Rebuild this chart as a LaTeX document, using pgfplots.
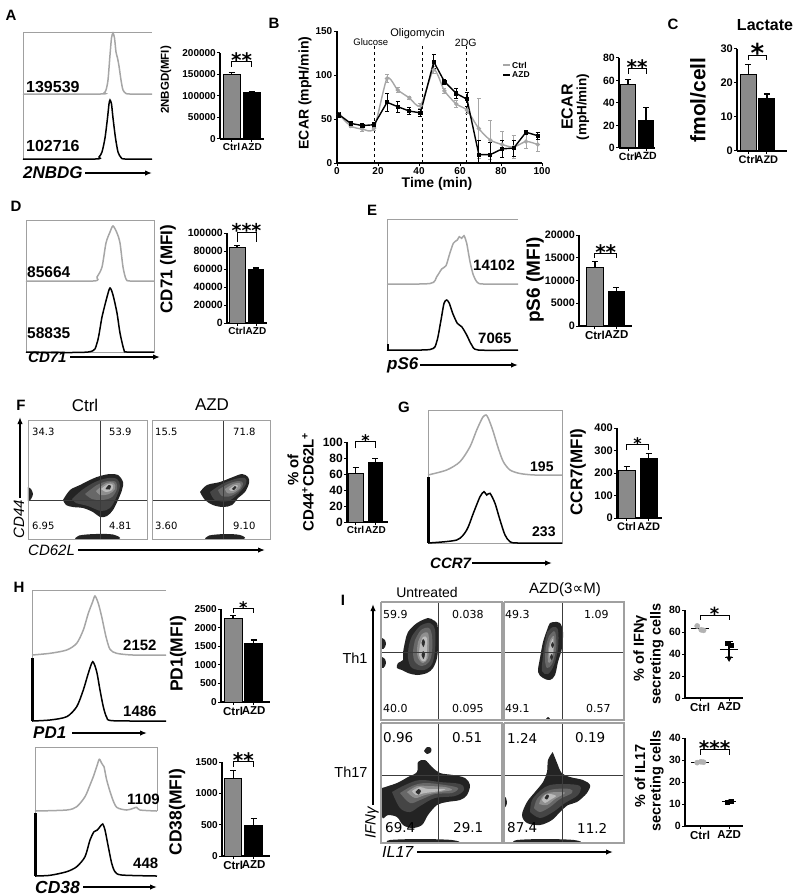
\documentclass[border=0pt]{standalone}
\usepackage{fontspec}
\setmainfont{Liberation Sans}
\newfontfamily\dv{DejaVu Sans}
\usepackage{pgfplots}
\pgfplotsset{compat=1.18}
\usetikzlibrary{arrows.meta}
\newcommand\fs[1]{\fontsize{#1}{#1}\selectfont}
\newcommand\B[1]{\bfseries\fs{#1}}
\newcommand\BI[1]{\bfseries\itshape\fs{#1}}
\newcommand\IT[1]{\itshape\fs{#1}}
\definecolor{hgray}{HTML}{A6A6A6}
\definecolor{fgray}{HTML}{A0A0A0}
\definecolor{bgray}{HTML}{8A8A8A}
\definecolor{qline}{HTML}{3C3C3C}
\definecolor{ca}{HTML}{232323}
\definecolor{cb}{HTML}{454545}
\definecolor{cc}{HTML}{686868}
\definecolor{cd}{HTML}{8F8F8F}
\definecolor{ce}{HTML}{BCBCBC}
\definecolor{cf}{HTML}{2E2E2E}
\pgfplotsset{
  barax/.style={scale only axis, anchor=south west, axis lines*=left, ymin=0, clip=false,
    axis line style={line width=1.2pt}, tick style={line width=1pt, black},
    tick align=outside, major tick length=3pt, xtick={0,1}, xticklabels={Ctrl,AZD},
    scaled y ticks=false, /pgf/number format/fixed, /pgf/number format/1000 sep={}, /pgf/number format/assume math mode=true,
    yticklabel style={inner sep=1pt}, xticklabel style={inner sep=1.5pt}},
  ctrlbar/.style={ybar, bar shift=0pt, fill=bgray, draw=black, line width=1pt,
    /pgfplots/error bars/y dir=plus, /pgfplots/error bars/y explicit,
    /pgfplots/error bars/error bar style={line width=1.3pt, black},
    /pgfplots/error bars/error mark options={rotate=90, line width=1.3pt, mark size=3pt, black}},
  azdbar/.style={ybar, bar shift=0pt, fill=black, draw=black, line width=1pt,
    /pgfplots/error bars/y dir=plus, /pgfplots/error bars/y explicit,
    /pgfplots/error bars/error bar style={line width=1.3pt, black},
    /pgfplots/error bars/error mark options={rotate=90, line width=1.3pt, mark size=3pt, black}},
}
\newcommand\sig[4]{%
  \draw[line width=1pt] (axis cs:0,#2) -- (axis cs:0,#1) -- (axis cs:1,#1) -- (axis cs:1,#2);
  \node[anchor=base, inner sep=0pt, font=\dv\bfseries\fs{#3}, yshift=-0.3*#3pt] at (axis cs:0.5,#1) {#4};}
\newcommand\tx[4][]{\node[inner sep=0pt,#1] at (axis cs:#2,#3) {#4};}
\newcommand\arr[4]{\draw[line width=1.4pt, -{Latex[length=7pt,width=5.5pt]}] (axis cs:#1,#2) -- (axis cs:#3,#4);}
\newcommand\blob[2]{\addplot[draw=none, fill=#1, smooth, tension=0.55] coordinates {#2};}
\newcommand\seg[2]{\addplot[#1] coordinates {#2};}
\begin{document}
\begin{tikzpicture}[x=1pt,y=1pt]
\useasboundingbox (0,0) rectangle (800,-896);
\begin{axis}[at={(0pt,0pt)}, anchor=north west, scale only axis, width=800pt, height=896pt,
  xmin=0, xmax=800, ymin=0, ymax=896, y dir=reverse, hide axis, clip=false]
% ---------- panel letters
\tx[font=\B{15}]{11}{15}{A}
\tx[font=\B{15}]{274}{23}{B}
\tx[font=\B{15}]{673}{24}{C}
\tx[font=\B{15}]{16}{206}{D}
\tx[font=\B{15}]{372}{210}{E}
\tx[font=\B{15}]{21}{405}{F}
\tx[font=\B{15}]{404}{407}{G}
\tx[font=\B{15}]{19}{587}{H}
\tx[font=\B{15}]{343}{600}{I}
% ---------- A histogram
\seg{fgray, line width=1pt}{(23,159) (23,32) (152,32)}
\seg{hgray, line width=1.5pt, smooth, tension=0.45}{(23,94) (100,94) (104,93) (106,90) (108,80) (110,55) (111.5,38) (113,33) (114.5,38) (116,52) (117.5,58) (119,66) (121,80) (123,90) (126,93.5) (130,94) (152,94)}
\seg{black, line width=1.5pt, smooth, tension=0.45}{(23,159) (95,159) (99,157) (102,152) (105,138) (107.5,118) (109,104) (110,100) (111.5,104) (113,118) (115.5,138) (118,152) (121,157.5) (125,159) (152,159)}
\tx[anchor=west, font=\B{16}]{26}{87}{139539}
\tx[anchor=west, font=\B{16}]{26}{146}{102716}
\tx[anchor=west, font=\BI{17}]{23}{173}{2NBDG}
\arr{85}{173}{152}{173}
\tx[rotate=90, font=\B{11.5}]{166}{80}{2NBGD(MFI)}
% ---------- D histogram
\seg{fgray, line width=1pt}{(26,220) (154,220) (154,352) (26,352) (26,220)}
\seg{hgray, line width=1.5pt, smooth, tension=0.45}{(26,281) (93,281) (97,277) (102,267) (106,243) (110,232) (113,226) (117,233) (120,243) (123,267) (126,279) (130,281) (154,281)}
\seg{black, line width=1.5pt, smooth, tension=0.45}{(26,352) (88,352) (97,343) (102,317) (107,297) (110,288) (113,295) (117,313) (120,333) (124,350) (127,352) (154,352)}
\tx[anchor=west, font=\B{15.5}]{27}{272}{85664}
\tx[anchor=west, font=\B{15.5}]{27}{333}{58835}
\tx[anchor=west, font=\BI{15}]{28}{357}{CD71}
\arr{70}{357}{160}{357}
\tx[rotate=90, font=\B{17}]{168}{269}{CD71 (MFI)}
% ---------- E histogram
\seg{fgray, line width=1pt}{(518,219) (387,219) (387,350)}
\seg{hgray, line width=1.5pt, smooth, tension=0.45}{(387,284) (430,283.5) (436.7,276.7) (441.7,269) (446,265.7) (449.3,255) (453.3,243.3) (457.3,240) (459.3,236.7) (461.7,238.3) (464,235.7) (466.7,243.3) (470,261.7) (473.3,275) (477.3,282.3) (483.3,284) (518,284)}
\seg{black, line width=1.5pt, smooth, tension=0.45}{(387,350) (430,349.5) (436.7,341.7) (440.7,321.7) (444,303.3) (446.7,300) (449.3,303.3) (452.7,313.3) (457.3,323.3) (461.7,326.7) (466.7,335) (471.7,345) (478.3,350) (518,350)}
\seg{black, line width=2pt}{(387.5,344) (387.5,350)}
\tx[anchor=west, font=\B{15}]{473}{265}{14102}
\tx[anchor=west, font=\B{15}]{478}{338}{7065}
\tx[anchor=west, font=\BI{17}]{387}{365}{pS6}
\arr{420}{365}{518}{365}
\tx[rotate=90, font=\B{19}]{535}{280}{pS6 (MFI)}
% ---------- G histogram
\seg{fgray, line width=1pt}{(428,410) (562,410) (562,543) (428,543) (428,410)}
\seg{hgray, line width=1.5pt, smooth, tension=0.45}{(428,475) (446.7,470) (460,461.7) (470,446.7) (476.7,430) (482.7,417.3) (486,415) (488.3,418.3) (492.7,430) (498.3,448.3) (503.3,461.7) (510,470) (520,473.5) (535,475) (562,475)}
\seg{black, line width=1.5pt, smooth, tension=0.45}{(428,543) (456.7,540) (466.7,530) (473.3,513.3) (480,496.7) (484,491.7) (486.7,495) (490,493.3) (495,503.3) (500,520) (505,535) (510,541.7) (518,543) (562,543)}
\seg{black, line width=2.5pt}{(428.5,477) (428.5,543)}
\tx[anchor=west, font=\B{14}]{530}{467}{195}
\tx[anchor=west, font=\B{14}]{532}{532}{233}
\tx[anchor=west, font=\BI{15}]{430}{563}{CCR7}
\arr{472}{563}{552}{563}
\tx[rotate=90, font=\B{17}]{578}{472}{CCR7(MFI)}
% ---------- H histograms
\seg{fgray, line width=1pt}{(166,590) (32,590) (32,721)}
\seg{hgray, line width=1.5pt, smooth, tension=0.45}{(32,655) (50,653.3) (66.7,650) (76.7,643.3) (83.3,630) (88.3,613.3) (92.7,601.7) (95,596) (98.3,603.3) (101.7,616.7) (106,636.7) (110,649.3) (116.7,653.3) (133,655) (166,655)}
\seg{black, line width=1.5pt, smooth, tension=0.45}{(32,721) (50,720) (66.7,716.7) (76.7,706.7) (83.3,690) (88.3,673.3) (92.7,661.7) (96.7,671.7) (100,690) (103.3,706.7) (106.7,717.3) (113,720.7) (166,721)}
\seg{black, line width=2.5pt}{(32.5,658) (32.5,721)}
\tx[anchor=west, font=\B{15}]{123}{645}{2152}
\tx[anchor=west, font=\B{15}]{123}{711}{1486}
\tx[anchor=west, font=\BI{17}]{33}{733}{PD1}
\arr{72}{733}{147}{733}
\tx[rotate=90, font=\B{17.5}]{178}{654}{PD1(MFI)}
\seg{fgray, line width=1pt}{(157,811) (157,747) (35,747) (35,876)}
\seg{hgray, line width=1.5pt, smooth, tension=0.45}{(35,811) (66.7,810) (76.7,806.7) (85,796.7) (90,785) (93.3,776.7) (96.7,766.7) (99.3,759.3) (101.7,763.3) (104,766.7) (106.7,780) (111.7,796.7) (116.7,807.3) (126.7,810) (133.3,808.3) (136.7,807.3) (140,810) (157,811)}
\seg{black, line width=1.5pt, smooth, tension=0.45}{(35,876) (50,875.3) (66.7,871.7) (76.7,866.7) (85,856.7) (90,840) (94,831.7) (97.3,830) (100,826.7) (102.7,824) (105,830) (108.3,846.7) (111.7,863.3) (115,871.7) (121.7,875) (157,876)}
\seg{black, line width=2.5pt}{(35.5,813) (35.5,876)}
\tx[anchor=west, font=\B{15}]{127}{799}{1109}
\tx[anchor=west, font=\B{15}]{133}{863}{448}
\tx[anchor=west, font=\BI{17.5}]{35}{887}{CD38}
\arr{83}{887}{157}{887}
\tx[rotate=90, font=\B{17.5}]{177}{812}{CD38(MFI)}
% ---------- F contour plots
\blob{ca}{(63,500) (70,490) (80,485) (92,479) (100,476) (110,474) (118,475) (123,482) (122,490) (118,500) (113,510) (107,516) (100,517) (93,512) (83,508) (73,507) (66,505) (63,500)}
\blob{cb}{(72,499) (82,490) (95,482) (108,478) (117,479) (120,486) (116,498) (110,508) (101,511) (88,506) (76,503) (72,499)}
\blob{cc}{(85,494) (97,485) (108,481) (116,482) (117,489) (112,497) (103,500) (92,499) (85,494)}
\blob{cd}{(96,491) (106,483) (114,483) (115,489) (109,494) (100,495) (96,491)}
\blob{ce}{(101,489) (108,484) (113,485) (112,490) (106,492) (101,489)}
\blob{cf}{(105.5,489) (108.5,485) (111,486) (109.5,489.5) (105.5,489)}
\blob{ca}{(28,487) (31,489) (33,494) (31,499) (28,501) (28,487)}
\blob{ca}{(75,539) (79,535.5) (95,534) (113,534.5) (118,539) (75,539)}
\blob{ca}{(200,492) (207,485) (220,482) (233,477) (242,474) (248,477) (249,483) (245,492) (238,498) (232,505) (223,507) (213,505) (205,500) (200,492)}
\blob{cb}{(210,492) (222,484) (235,479) (245,478) (246,484) (238,494) (228,501) (215,500) (210,492)}
\blob{cc}{(218,490) (228,484) (238,481) (243,483) (240,490) (231,496) (222,496) (218,490)}
\blob{cd}{(225,489) (233,484) (240,483) (240,488) (233,493) (227,493) (225,489)}
\blob{ce}{(229,489) (235,485) (238,486) (235,490) (231,491) (229,489)}
\blob{cf}{(232,489) (235,486) (236.5,487) (234,490) (232,489)}
\blob{ca}{(205,539) (209,535.5) (225,534) (240,535) (243,539) (205,539)}
\seg{qline, line width=1pt}{(100,420) (100,539)}
\seg{qline, line width=1pt}{(28,500.5) (147,500.5)}
\seg{qline, line width=1pt}{(223,420) (223,539)}
\seg{qline, line width=1pt}{(152,500.5) (270,500.5)}
\seg{fgray, line width=1pt}{(28,420) (147,420) (147,539) (28,539) (28,420)}
\seg{fgray, line width=1pt}{(152,420) (270,420) (270,539) (152,539) (152,420)}
\tx[anchor=west, font=\dv\fs{10}]{32}{432}{34.3}
\tx[anchor=west, font=\dv\fs{10}]{109}{432}{53.9}
\tx[anchor=west, font=\dv\fs{10}]{32}{526}{6.95}
\tx[anchor=west, font=\dv\fs{10}]{109}{526}{4.81}
\tx[anchor=west, font=\dv\fs{10}]{155}{432}{15.5}
\tx[anchor=west, font=\dv\fs{10}]{233}{432}{71.8}
\tx[anchor=west, font=\dv\fs{10}]{155}{526}{3.60}
\tx[anchor=west, font=\dv\fs{10}]{233}{526}{9.10}
\tx[font=\fs{17}]{85}{405}{Ctrl}
\tx[font=\fs{17}]{212}{405}{AZD}
\arr{20}{498}{20}{417}
\tx[rotate=90, font=\IT{15}]{19}{519}{CD44}
\tx[anchor=west, font=\IT{15}]{28}{550}{CD62L}
\arr{78}{550}{265}{550}
\tx[rotate=90, font=\B{15}]{293}{470}{\% of}
\tx[rotate=90, font=\B{15}]{308}{482}{CD44\textsuperscript{+}CD62L\textsuperscript{+}}
% ---------- I contour plots
\blob{ca}{(433,620) (428,618) (417,623) (408,632) (405,642) (403,653) (403,660) (398,663) (397,668) (402,670) (408,673) (417,675) (427,673) (433,668) (437,658) (438,645) (438,632) (437,623) (433,620)}
\blob{cb}{(412,636) (420,626) (430,623) (435,630) (435,650) (432,664) (424,670) (412,668) (408,658) (409,645) (412,636)}
\blob{cc}{(415,640) (421,630) (429,628) (432,636) (432,652) (429,662) (422,666) (415,662) (413,652) (415,640)}
\blob{cd}{(418,642) (422,634) (428,633) (429,645) (428,658) (423,663) (418,658) (417,650) (418,642)}
\blob{ce}{(420,645) (423,637) (427,638) (427,650) (426,660) (422,661) (419,655) (420,645)}
\blob{cf}{(421.5,643) (423,639) (425,642) (423.5,647) (421.5,643)}
\blob{cf}{(421.5,655) (423,651) (425,654) (423.5,659) (421.5,655)}
\blob{ca}{(382,638) (385,640) (386,643) (385,647) (382,649) (382,638)}
\blob{ca}{(382,657) (385,659) (386,662) (385,666) (382,668) (382,657)}
\blob{ca}{(555,622) (560,623) (563,632) (562,648) (558,662) (555,675) (550,680) (543,678) (538,672) (540,658) (543,642) (547,630) (550,623) (555,622)}
\blob{cb}{(547,632) (553,627) (558,630) (558,648) (554,665) (548,674) (542,671) (543,656) (545,642) (547,632)}
\blob{cc}{(549,636) (554,631) (556,636) (556,650) (552,664) (547,668) (545,660) (546,646) (549,636)}
\blob{cd}{(550,640) (554,636) (554,650) (551,661) (548,662) (548,650) (550,640)}
\blob{ce}{(551,642) (553,639) (553,652) (550,658) (549,650) (551,642)}
\blob{cf}{(551,645) (552.5,642) (554,645) (552.5,648) (551,645)}
\blob{cf}{(550,657) (551.5,654) (553,657) (551.5,660) (550,657)}
\blob{ca}{(546,719) (548,717) (550,719) (548,721) (546,719)}
\blob{ca}{(382,788) (397,783) (408,777) (417,772) (418,762) (425,760) (432,767) (440,773) (453,775) (465,778) (470,785) (467,795) (460,800) (447,802) (437,805) (428,815) (422,825) (412,828) (403,825) (397,817) (388,815) (382,817) (382,788)}
\blob{ca}{(424,751) (427,747) (431,748) (431,752) (427,754) (424,751)}
\blob{cb}{(392,792) (405,785) (420,780) (440,782) (460,784) (464,790) (455,796) (435,798) (420,806) (410,812) (400,808) (392,792)}
\blob{cc}{(400,793) (412,786) (425,783) (445,785) (458,788) (452,793) (435,794) (420,800) (410,803) (400,793)}
\blob{cd}{(407,792) (417,786) (428,786) (445,787) (452,790) (440,792) (425,795) (415,798) (407,792)}
\blob{ce}{(412,791) (420,787) (428,789) (445,789) (440,791) (425,793) (416,795) (412,791)}
\blob{cf}{(415.5,792) (418.5,789) (421,791) (418.5,794.5) (415.5,792)}
\blob{ca}{(387,843) (390,840) (420,839) (452,840) (455,843) (387,843)}
\blob{ca}{(552.7,752) (556.7,762) (561.7,773) (570,777) (583,780) (590,785) (587,793) (577,802) (568,805) (560,812) (552,820) (540,825) (527,823) (522,815) (527,802) (535,792) (543,782) (547,772) (548,760) (552.7,752)}
\blob{cb}{(530,812) (532,800) (541,790) (550,785) (565,784) (580,786) (578,795) (565,803) (553,812) (540,818) (530,812)}
\blob{cc}{(534,808) (537,799) (545,792) (555,789) (570,789) (572,793) (560,799) (550,807) (540,812) (534,808)}
\blob{cd}{(539,804) (542,797) (548,793) (558,792) (565,793) (555,799) (547,805) (539,804)}
\blob{ce}{(542,800) (545,795) (550,794) (556,796) (550,800) (545,803) (542,800)}
\blob{cf}{(544.5,798) (547,794.5) (549,796) (547,799.5) (544.5,798)}
\blob{ca}{(503,795) (506,798) (507,802) (506,806) (503,808) (503,795)}
\blob{ca}{(513,843) (517,840) (545,839) (574,840) (577,843) (513,843)}
\seg{qline, line width=1pt}{(438,602) (438,720)}
\seg{qline, line width=1pt}{(381,652) (502,652)}
\seg{qline, line width=1pt}{(562,602) (562,720)}
\seg{qline, line width=1pt}{(503,652) (624,652)}
\seg{qline, line width=1pt}{(438,723) (438,843)}
\seg{qline, line width=1pt}{(381,775) (502,775)}
\seg{qline, line width=1pt}{(562,723) (562,843)}
\seg{qline, line width=1pt}{(503,775) (624,775)}
\seg{fgray, line width=1.2pt}{(381,602) (502,602) (502,720) (381,720) (381,602)}
\seg{fgray, line width=1.2pt}{(504,602) (624,602) (624,720) (504,720) (504,602)}
\seg{fgray, line width=1.2pt}{(381,723) (502,723) (502,843) (381,843) (381,723)}
\seg{fgray, line width=1.2pt}{(504,723) (624,723) (624,843) (504,843) (504,723)}
\tx[anchor=west, font=\dv\fs{11}]{383}{614}{59.9}
\tx[anchor=west, font=\dv\fs{11}]{452}{614}{0.038}
\tx[anchor=west, font=\dv\fs{11}]{383}{708}{40.0}
\tx[anchor=west, font=\dv\fs{11}]{452}{708}{0.095}
\tx[anchor=west, font=\dv\fs{11}]{505}{614}{49.3}
\tx[anchor=west, font=\dv\fs{11}]{584}{614}{1.09}
\tx[anchor=west, font=\dv\fs{11}]{505}{708}{49.1}
\tx[anchor=west, font=\dv\fs{11}]{586}{708}{0.57}
\tx[anchor=west, font=\dv\fs{13.5}]{383}{738}{0.96}
\tx[anchor=west, font=\dv\fs{13.5}]{452}{738}{0.51}
\tx[anchor=west, font=\dv\fs{13.5}]{385}{828}{69.4}
\tx[anchor=west, font=\dv\fs{13.5}]{453}{828}{29.1}
\tx[anchor=west, font=\dv\fs{13.5}]{507}{738}{1.24}
\tx[anchor=west, font=\dv\fs{13.5}]{575}{738}{0.19}
\tx[anchor=west, font=\dv\fs{13.5}]{507}{828}{87.4}
\tx[anchor=west, font=\dv\fs{13.5}]{577}{828}{11.2}
\tx[font=\fs{14}]{427}{592}{Untreated}
\tx[font=\fs{15}]{565}{590}{AZD(3{\dv ∝}M)}
\tx[font=\fs{14.5}]{355}{658}{Th1}
\tx[font=\fs{14.5}]{351}{772}{Th17}
\arr{373}{805}{373}{604}
\tx[rotate=90, font=\IT{15}]{372}{823}{IFNγ}
\tx[anchor=west, font=\IT{16}]{382}{852}{IL17}
\arr{417}{852}{613}{852}
\tx[rotate=90, font=\B{14.5}]{640}{648}{\% of IFNγ}
\tx[rotate=90, font=\B{14.5}]{657}{654}{secreting cells}
\tx[rotate=90, font=\B{14.5}]{640}{776}{\% of IL17}
\tx[rotate=90, font=\B{14.5}]{657}{781}{secreting cells}
% ---------- B / C free labels
\tx[rotate=90, font=\B{14}]{305}{93}{ECAR (mpH/min)}
\tx[font=\B{14}]{437}{184}{Time (min)}
\seg{hgray, line width=1.6pt}{(503,65) (510,65)}
\seg{black, line width=1.6pt}{(503,75) (510,75)}
\tx[anchor=west, font=\B{8.5}]{512}{65}{Ctrl}
\tx[anchor=west, font=\B{8.5}]{512}{75}{AZD}
\tx[rotate=90, font=\B{16}]{567}{107}{ECAR}
\tx[rotate=90, font=\B{13.5}]{583}{107}{(mpH/min)}
\tx[font=\B{16}]{765}{25}{Lactate}
\tx[rotate=90, font=\B{21}]{698}{100}{fmol/cell}
\end{axis}
% ---------- B ECAR line chart
\begin{axis}[at={(337pt,-163pt)}, anchor=south west, scale only axis, width=205pt, height=132pt,
  xmin=0, xmax=100, ymin=0, ymax=150, axis lines*=left, clip=false,
  xtick={0,20,40,60,80,100}, ytick={0,50,100,150},
  tick align=outside, major tick length=3pt, axis line style={line width=1.1pt},
  tick style={line width=0.9pt, black}, /pgf/number format/fixed, /pgf/number format/assume math mode=true,
  ticklabel style={font=\B{10}, inner sep=1.5pt}]
\addplot[black, dashed, line width=1pt] coordinates {(18.5,0) (18.5,133)};
\addplot[black, dashed, line width=1pt] coordinates {(41.5,0) (41.5,133)};
\addplot[black, dashed, line width=1pt] coordinates {(63,0) (63,133)};
\addplot[hgray, line width=1.4pt, mark=*, mark size=1.4pt, smooth, tension=0.4,
  error bars/.cd, y dir=both, y explicit, error bar style={line width=0.9pt}, error mark options={rotate=90, mark size=2pt, line width=0.9pt}]
 coordinates {(1,55) +- (0,3) (6.7,42) +- (0,2) (12.4,38.5) +- (0,3) (18.1,39.5) +- (0,3) (24.4,96) +- (0,5) (29.6,83) +- (0,3) (35.3,74) +- (0,2) (40.7,65) +- (0,3) (47.2,106) +- (0,4) (52.4,82) +- (0,3) (58.2,67) +- (0,4) (63.4,60) +- (0,4) (69.2,39) +- (0,34) (74.8,26) +- (0,22) (80.5,21) +- (0,15) (86.2,18) +- (0,13) (92.2,24.5) +- (0,8) (97.9,21) +- (0,8)};
\addplot[black, line width=1.4pt, mark=square*, mark size=1.4pt,
  error bars/.cd, y dir=both, y explicit, error bar style={line width=0.9pt}, error mark options={rotate=90, mark size=2pt, line width=0.9pt}]
 coordinates {(1,55) +- (0,3) (6.7,45) +- (0,2) (12.4,42.5) +- (0,2) (18.1,43.5) +- (0,3) (24.4,69) +- (0,10) (29.6,64) +- (0,6) (35.3,59) +- (0,4) (40.7,57) +- (0,4) (47.2,115) +- (0,8) (52.4,92.5) +- (0,3) (58.2,79) +- (0,6) (63.4,72.5) +- (0,8) (69.2,9.5) += (0,16) -= (0,9.5) (74.8,9.5) += (0,14) -= (0,9.5) (80.5,16) +- (0,10) (86.2,17) +- (0,9) (92.2,35) +- (0,2) (97.9,31) +- (0,4)};
\node[font=\fs{9.5}, inner sep=0pt] at (axis cs:16.5,137) {Glucose};
\node[font=\fs{11}, inner sep=0pt] at (axis cs:39.3,147) {Oligomycin};
\node[font=\fs{10.5}, inner sep=0pt] at (axis cs:62.8,137) {2DG};
\end{axis}
% ---------- A bar
\begin{axis}[barax, at={(220pt,-139pt)}, width=44pt, height=86pt, xmin=-0.575, xmax=1.625, ymax=200000,
  ytick={0,50000,100000,150000,200000}, yticklabel style={font=\B{10}}, xticklabel style={font=\B{10}}]
\addplot[bar width=0.85, ctrlbar] coordinates {(0,149000) +- (0,5000)};
\addplot[bar width=0.85, azdbar] coordinates {(1,108000) +- (0,3000)};
\sig{181000}{168000}{20}{**}
\end{axis}
% ---------- B ECAR bar
\begin{axis}[barax, at={(619pt,-148pt)}, width=36pt, height=90pt, xmin=-0.5, xmax=1.5, ymax=80,
  ytick={0,20,40,60,80}, yticklabel style={font=\B{10.5}}, xticklabel style={font=\B{10.5}}]
\addplot[bar width=0.8, ctrlbar] coordinates {(0,56.5) +- (0,4.5)};
\addplot[bar width=0.8, azdbar] coordinates {(1,24.5) +- (0,11.5)};
\sig{70.8}{66}{20}{**}
\end{axis}
% ---------- C lactate
\begin{axis}[barax, at={(737pt,-151pt)}, width=50pt, height=102pt, xmin=-0.6, xmax=2.08, ymax=30,
  ytick={0,10,20,30}, yticklabel style={font=\B{11}}, xticklabel style={font=\B{11}}]
\addplot[bar width=0.85, ctrlbar] coordinates {(0,22.5) +- (0,3)};
\addplot[bar width=0.85, azdbar] coordinates {(1,15.3) +- (0,1.5)};
\sig{28.2}{26.8}{26}{*}
\end{axis}
% ---------- D bar
\begin{axis}[barax, at={(227pt,-323pt)}, width=40pt, height=90pt, xmin=-0.53, xmax=1.58, ymax=100000,
  ytick={0,20000,40000,60000,80000,100000}, yticklabel style={font=\B{10.5}}, xticklabel style={font=\B{10}}]
\addplot[bar width=0.84, ctrlbar] coordinates {(0,84000) +- (0,2500)};
\addplot[bar width=0.84, azdbar] coordinates {(1,59500) +- (0,1500)};
\sig{101000}{90000}{19}{***}
\end{axis}
% ---------- E bar
\begin{axis}[barax, at={(579pt,-326pt)}, width=53pt, height=91pt, xmin=-0.74, xmax=1.72, ymax=20000,
  ytick={0,5000,10000,15000,20000}, yticklabel style={font=\B{10.8}}, xticklabel style={font=\B{11.5}}]
\addplot[bar width=0.76, ctrlbar] coordinates {(0,12800) +- (0,1400)};
\addplot[bar width=0.76, azdbar] coordinates {(1,7650) +- (0,850)};
\sig{16000}{15000}{20}{**}
\end{axis}
% ---------- F bar
\begin{axis}[barax, at={(347pt,-522pt)}, width=41pt, height=80pt, xmin=-0.43, xmax=1.63, ymax=100,
  ytick={0,20,40,60,80,100}, yticklabel style={font=\B{12}}, xticklabel style={font=\B{10}}]
\addplot[bar width=0.75, ctrlbar] coordinates {(0,61) +- (0,7)};
\addplot[bar width=0.75, azdbar] coordinates {(1,75) +- (0,4)};
\sig{100.4}{92}{16}{*}
\end{axis}
% ---------- G bar
\begin{axis}[barax, at={(617pt,-518pt)}, width=45pt, height=90pt, xmin=-0.43, xmax=1.6, ymax=400,
  ytick={0,100,200,300,400}, yticklabel style={font=\B{11}}, xticklabel style={font=\B{11}}]
\addplot[bar width=0.77, ctrlbar] coordinates {(0,210) +- (0,20)};
\addplot[bar width=0.77, azdbar] coordinates {(1,265) +- (0,23)};
\sig{327}{302}{16}{*}
\end{axis}
% ---------- H PD1 bar
\begin{axis}[barax, at={(221pt,-702pt)}, width=49pt, height=93pt, xmin=-0.59, xmax=1.8, ymax=2500,
  ytick={0,500,1000,1500,2000,2500}, yticklabel style={font=\B{10}}, xticklabel style={font=\B{11.5}}]
\addplot[bar width=0.88, ctrlbar] coordinates {(0,2250) +- (0,80)};
\addplot[bar width=0.88, azdbar] coordinates {(1,1560) +- (0,110)};
\sig{2518}{2390}{16}{*}
\end{axis}
% ---------- H CD38 bar
\begin{axis}[barax, at={(222pt,-856pt)}, width=48pt, height=94pt, xmin=-0.55, xmax=1.8, ymax=1500,
  ytick={0,500,1000,1500}, yticklabel style={font=\B{10}}, xticklabel style={font=\B{11.5}}]
\addplot[bar width=0.85, ctrlbar] coordinates {(0,1230) +- (0,140)};
\addplot[bar width=0.85, azdbar] coordinates {(1,493) +- (0,100)};
\sig{1505}{1425}{20}{**}
\end{axis}
% ---------- I dot plots
\begin{axis}[barax, at={(685pt,-698pt)}, width=58pt, height=88pt, xmin=-0.52, xmax=1.48, ymax=80,
  ytick={0,20,40,60,80}, yticklabel style={font=\B{10.5}}, xticklabel style={font=\B{11.5}}]
\addplot[only marks, mark=*, mark size=2.6pt, color=gray!60] coordinates {(-0.1,65.5) (0.04,62) (0.12,61.5)};
\addplot[black, line width=1.2pt] coordinates {(-0.32,63.3) (0.32,63.3)};
\addplot[only marks, mark=square*, mark size=2.3pt, black] coordinates {(0.95,50) (1.06,48)};
\addplot[only marks, mark=triangle*, mark size=3pt, black, mark options={rotate=180}] coordinates {(1.0,36)};
\addplot[black, line width=1.2pt] coordinates {(0.68,44) (1.32,44)};
\addplot[black, mark=none, error bars/.cd, y dir=both, y explicit, error bar style={line width=1.2pt}, error mark options={rotate=90, mark size=4pt, line width=1.2pt}] coordinates {(1,44) +- (0,7.5)};
\sig{75.4}{71}{18}{*}
\end{axis}
\begin{axis}[barax, at={(685pt,-826pt)}, width=58pt, height=88pt, xmin=-0.52, xmax=1.48, ymax=40,
  ytick={0,10,20,30,40}, yticklabel style={font=\B{10.5}}, xticklabel style={font=\B{11.5}}]
\addplot[only marks, mark=*, mark size=2.6pt, color=gray!60] coordinates {(-0.1,28.8) (0.03,29.2) (0.12,29)};
\addplot[black, line width=1.2pt] coordinates {(-0.3,29) (0.3,29)};
\addplot[only marks, mark=square*, mark size=2.3pt, black] coordinates {(0.93,10.8) (1.07,11.3)};
\addplot[only marks, mark=triangle*, mark size=2.6pt, black] coordinates {(1.0,11)};
\addplot[black, line width=1.2pt] coordinates {(0.75,11) (1.25,11)};
\sig{34.7}{32.4}{20}{***}
\end{axis}
\end{tikzpicture}
\end{document}
